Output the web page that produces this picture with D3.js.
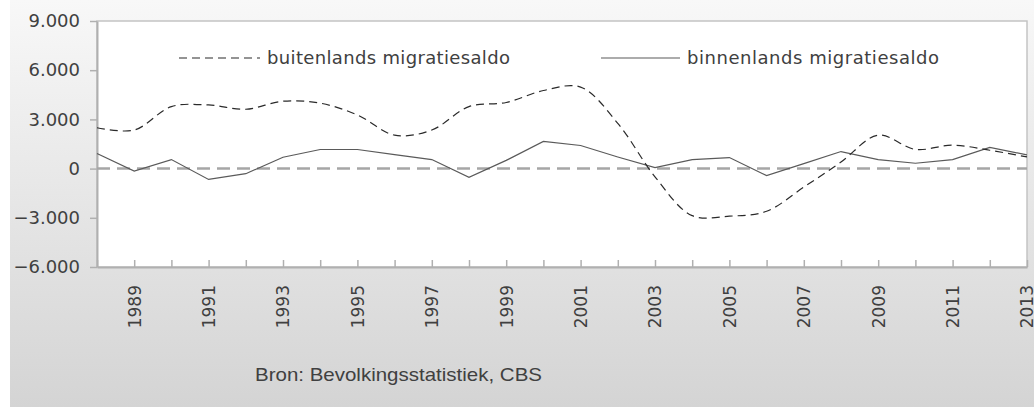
<!DOCTYPE html>
<html>
<head>
<meta charset="utf-8">
<script src="https://cdn.jsdelivr.net/npm/d3@7"></script>
<style>
  html, body { margin: 0; padding: 0; background: #fff; }
  #chart svg { display: block; }
</style>
</head>
<body>
<div id="chart"></div>
<script>
// Data
const years = [1988, 1989, 1990, 1991, 1992, 1993, 1994, 1995, 1996, 1997, 1998, 1999, 2000,
  2001, 2002, 2003, 2004, 2005, 2006, 2007, 2008, 2009, 2010, 2011, 2012, 2013];
const buitenlands = [2490, 2350, 3780, 3880, 3620, 4110, 3990, 3270, 2040, 2350, 3780, 4030, 4760,
  4970, 2760, -500, -2870, -2900, -2600, -1130, 400, 2040, 1170, 1430, 1120, 710];
const binnenlands = [920, -150, 550, -660, -310, 690, 1165, 1165, 850, 550, -535, 500, 1655,
  1410, 710, 60, 550, 675, -430, 300, 1040, 550, 325, 550, 1290, 835];
const labelYears = [1989, 1991, 1993, 1995, 1997, 1999, 2001, 2003, 2005, 2007, 2009, 2011, 2013];
const yTicks = [-6000, -3000, 0, 3000, 6000, 9000];
const seriesNames = ['buitenlands migratiesaldo', 'binnenlands migratiesaldo'];
const source = 'Bron: Bevolkingsstatistiek, CBS';

(function main() {
  const width = 1034;
  const height = 407;
  const margin = { top: 21, right: 7, bottom: 140, left: 97 };
  const innerW = width - margin.left - margin.right;
  const innerH = height - margin.top - margin.bottom;

  const axisGray = '#b0b0b0';
  const textColor = '#404040';

  const nl = d3.formatLocale({ decimal: ',', thousands: '.', grouping: [3], currency: ['', ''] });
  const fmt = nl.format(',');

  const svg = d3.select('#chart').append('svg')
    .attr('width', width)
    .attr('height', height);

  // chart area background gradient
  const grad = svg.append('defs').append('linearGradient')
    .attr('id', 'bg').attr('x1', 0).attr('y1', 0).attr('x2', 0).attr('y2', 1);
  grad.append('stop').attr('offset', '0%').attr('stop-color', '#f8f8f8');
  grad.append('stop').attr('offset', '100%').attr('stop-color', '#d4d4d4');
  svg.append('rect')
    .attr('x', 10).attr('y', 0)
    .attr('width', width - 10).attr('height', height)
    .attr('fill', 'url(#bg)');

  const plot = svg.append('g').attr('transform', `translate(${margin.left},${margin.top})`);

  const x = d3.scalePoint().domain(years).range([0, innerW]);
  const y = d3.scaleLinear().domain([-6000, 9000]).range([innerH, 0]);

  // plot frame
  plot.append('rect')
    .attr('width', innerW).attr('height', innerH)
    .attr('fill', '#fff')
    .attr('stroke', '#c4c4c4')
    .attr('stroke-width', 1.5);

  // y axis
  const yAxis = plot.append('g')
    .call(d3.axisLeft(y).tickValues(yTicks).tickFormat(fmt).tickSizeInner(7).tickSizeOuter(0).tickPadding(10));
  yAxis.select('.domain').attr('stroke', axisGray).attr('stroke-width', 2);
  yAxis.selectAll('.tick line').attr('stroke', axisGray).attr('stroke-width', 1.5);
  yAxis.selectAll('.tick text')
    .attr('fill', textColor)
    .style('font-family', '"DejaVu Sans", sans-serif')
    .style('font-size', '18px');

  // x axis, ticks pointing into the plot
  const xAxis = plot.append('g')
    .attr('transform', `translate(0,${innerH})`)
    .call(d3.axisBottom(x)
      .tickSizeInner(-7).tickSizeOuter(0)
      .tickFormat(d => labelYears.includes(d) ? String(d) : ''));
  xAxis.select('.domain').attr('stroke', axisGray).attr('stroke-width', 2);
  xAxis.selectAll('.tick line').attr('stroke', axisGray).attr('stroke-width', 1.5);
  xAxis.selectAll('.tick text')
    .attr('fill', textColor)
    .attr('transform', 'rotate(-90)')
    .attr('text-anchor', 'end')
    .attr('x', -18)
    .attr('y', 0)
    .attr('dy', '0.35em')
    .style('font-family', '"DejaVu Sans", sans-serif')
    .style('font-size', '17px');

  // zero line
  plot.append('line')
    .attr('x1', 0).attr('x2', innerW)
    .attr('y1', y(0)).attr('y2', y(0))
    .attr('stroke', '#a6a6a6')
    .attr('stroke-width', 2.5)
    .attr('stroke-dasharray', '13,7');

  const pts = arr => years.map((yr, i) => ({ x: yr, value: arr[i] }));

  // binnenlands: straight segments
  plot.append('path')
    .datum(pts(binnenlands))
    .attr('fill', 'none')
    .attr('stroke', '#5a5a5a')
    .attr('stroke-width', 1.2)
    .attr('d', d3.line().x(d => x(d.x)).y(d => y(d.value)));

  // buitenlands: smoothed dashed
  plot.append('path')
    .datum(pts(buitenlands))
    .attr('fill', 'none')
    .attr('stroke', '#2a2a2a')
    .attr('stroke-width', 1.2)
    .attr('stroke-dasharray', '8,5')
    .attr('d', d3.line().curve(d3.curveCatmullRom.alpha(0.5)).x(d => x(d.x)).y(d => y(d.value)));

  // legend
  const legendFont = '"DejaVu Sans", sans-serif';
  const leg = [
    { name: seriesNames[0], x1: 179, x2: 260, tx: 267, tl: 243, dash: '8,5', color: '#2a2a2a' },
    { name: seriesNames[1], x1: 601, x2: 680, tx: 687, tl: 252, dash: null, color: '#5a5a5a' }
  ];
  const items = svg.selectAll('g.leg').data(leg).enter().append('g').attr('class', 'leg');
  items.append('line')
    .attr('x1', d => d.x1).attr('x2', d => d.x2)
    .attr('y1', 58).attr('y2', 58)
    .attr('stroke', d => d.color)
    .attr('stroke-width', 1.2)
    .attr('stroke-dasharray', d => d.dash);
  items.append('text')
    .attr('x', d => d.tx).attr('y', 58)
    .attr('dy', '0.35em')
    .attr('fill', textColor)
    .attr('textLength', d => d.tl)
    .attr('lengthAdjust', 'spacing')
    .style('font-family', legendFont)
    .style('font-size', '18px')
    .text(d => d.name);

  // source note
  svg.append('text')
    .attr('x', 255).attr('y', 381)
    .attr('fill', textColor)
    .attr('textLength', 287)
    .attr('lengthAdjust', 'spacingAndGlyphs')
    .style('font-family', '"Liberation Sans", sans-serif')
    .style('font-size', '19px')
    .text(source);
})();
</script>
</body>
</html>
